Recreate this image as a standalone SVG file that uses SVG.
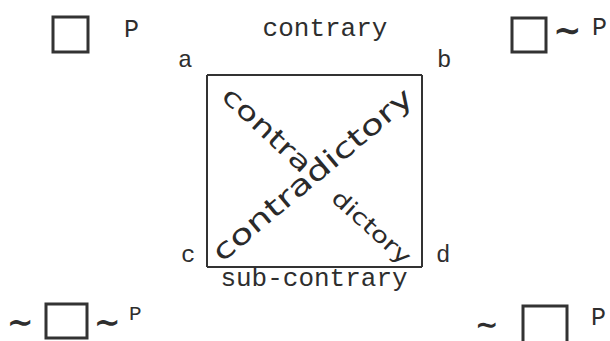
<svg xmlns="http://www.w3.org/2000/svg" width="610" height="341" viewBox="0 0 610 341">
<style>
.tw{font-family:"Liberation Mono","Courier New",monospace;fill:#2e2e2e}
.hw{font-family:"DejaVu Sans","Liberation Sans",sans-serif;fill:#2a2a2a}
.til{font-family:"DejaVu Sans",sans-serif;fill:#2e2e2e;font-weight:bold}
.box{fill:none;stroke:#333;stroke-width:3}
.edge{stroke:#333;stroke-width:2;fill:none}
</style>
<rect width="610" height="341" fill="#fff"/>
<g id="corner-a">
<rect class="box" x="53" y="17" width="35" height="35"/>
<text class="tw" x="124" y="37" font-size="25">P</text>
<text class="tw" x="178" y="67" font-size="24">a</text>
</g>
<g id="corner-b">
<rect class="box" x="512" y="18" width="34" height="34"/>
<text class="til" x="553" y="42" font-size="34">∼</text>
<text class="tw" x="592" y="35" font-size="25">P</text>
<text class="tw" x="437" y="67" font-size="24">b</text>
</g>
<g id="corner-c">
<text class="til" x="7" y="333" font-size="32">∼</text>
<rect class="box" x="46" y="304" width="41" height="34"/>
<text class="til" x="94" y="333" font-size="32">∼</text>
<text class="tw" x="129" y="320" font-size="21">P</text>
<text class="tw" x="181" y="262" font-size="24">c</text>
</g>
<g id="corner-d">
<text class="til" x="475" y="334" font-size="28">∼</text>
<rect class="box" x="523" y="306" width="44" height="40"/>
<text class="tw" x="591" y="325" font-size="25">P</text>
<text class="tw" x="436" y="262" font-size="24">d</text>
</g>
<g id="connectors">
<line class="edge" x1="207" y1="75" x2="422" y2="75"/>
<line class="edge" x1="207" y1="267" x2="422" y2="267"/>
<line class="edge" x1="207" y1="75" x2="207" y2="267"/>
<line class="edge" x1="422" y1="75" x2="422" y2="267"/>
<text class="tw" x="325" y="36" font-size="26" text-anchor="middle">contrary</text>
<text class="tw" x="314" y="286" font-size="26" text-anchor="middle">sub-contrary</text>
<text class="hw" font-size="28" transform="translate(222,263) rotate(-40)" textLength="252" lengthAdjust="spacingAndGlyphs">contradictory</text>
<text class="hw" font-size="26" transform="translate(220,98) rotate(43)" textLength="112" lengthAdjust="spacingAndGlyphs">contra</text>
<text class="hw" font-size="22" transform="translate(330,200) rotate(42)" textLength="98" lengthAdjust="spacingAndGlyphs">dictory</text>
</g>
</svg>
